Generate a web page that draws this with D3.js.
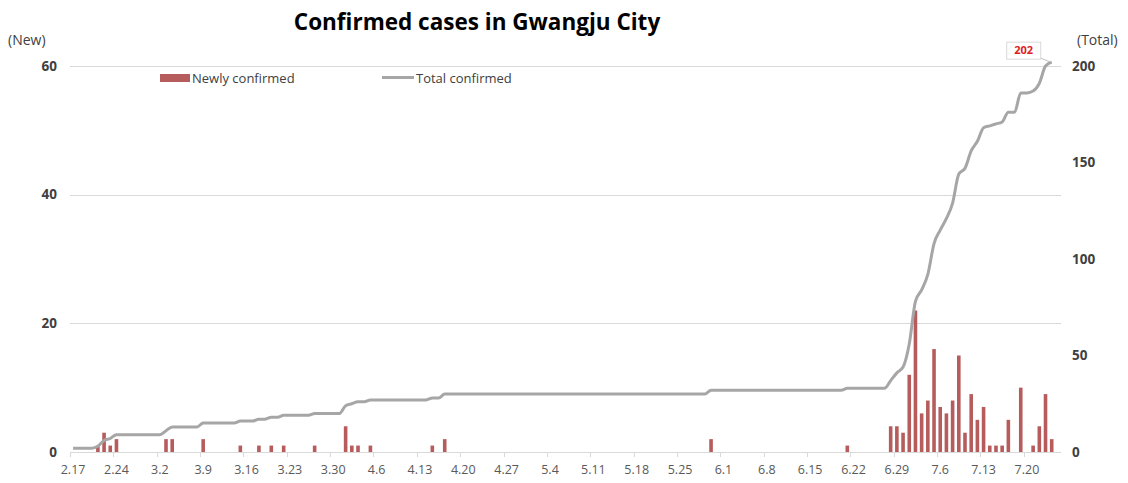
<!DOCTYPE html>
<html>
<head>
  <meta charset="utf-8">
  <title>Confirmed cases in Gwangju City</title>
  <script src="https://cdn.jsdelivr.net/npm/d3@7"></script>
  <style>
    body { margin: 0; background: #fff; font-family: "Open Sans", sans-serif; }
    .grid line { stroke: #d9d9d9; stroke-width: 1; }
    .tick-left, .tick-right { font-size: 13.5px; font-weight: bold; fill: #404040; }
    .xlabel { font-size: 12.5px; fill: #595959; }
    .unit { font-size: 14px; fill: #404040; }
    .legend text { font-size: 13px; fill: #404040; }
  </style>
</head>
<body>
<script>

  // daily categories, 2.17 .. 7.25 (last one has no data)
  var firstDay = new Date(2020, 1, 17),
      lastDay = new Date(2020, 6, 25);

  // newly confirmed per day, starting 2.17
  var newCases = [
    0, 0, 0, 0, 1, 3, 1, 2, 0, 0,
    0, 0, 0, 0, 0, 2, 2, 0, 0, 0,
    0, 2, 0, 0, 0, 0, 0, 1, 0, 0,
    1, 0, 1, 0, 1, 0, 0, 0, 0, 1,
    0, 0, 0, 0, 4, 1, 1, 0, 1, 0,
    0, 0, 0, 0, 0, 0, 0, 0, 1, 0,
    2, 0, 0, 0, 0, 0, 0, 0, 0, 0,
    0, 0, 0, 0, 0, 0, 0, 0, 0, 0,
    0, 0, 0, 0, 0, 0, 0, 0, 0, 0,
    0, 0, 0, 0, 0, 0, 0, 0, 0, 0,
    0, 0, 0, 2, 0, 0, 0, 0, 0, 0,
    0, 0, 0, 0, 0, 0, 0, 0, 0, 0,
    0, 0, 0, 0, 0, 1, 0, 0, 0, 0,
    0, 0, 4, 4, 3, 12, 22, 6, 8, 16,
    7, 6, 8, 15, 3, 9, 5, 7, 1, 1,
    1, 5, 0, 10, 0, 1, 4, 9, 2
  ];

  // total confirmed per day, starting 2.17
  var totalCases = [
    2, 2, 2, 2, 3, 6, 7, 9, 9, 9,
    9, 9, 9, 9, 9, 11, 13, 13, 13, 13,
    13, 15, 15, 15, 15, 15, 15, 16, 16, 16,
    17, 17, 18, 18, 19, 19, 19, 19, 19, 20,
    20, 20, 20, 20, 24, 25, 26, 26, 27, 27,
    27, 27, 27, 27, 27, 27, 27, 27, 28, 28,
    30, 30, 30, 30, 30, 30, 30, 30, 30, 30,
    30, 30, 30, 30, 30, 30, 30, 30, 30, 30,
    30, 30, 30, 30, 30, 30, 30, 30, 30, 30,
    30, 30, 30, 30, 30, 30, 30, 30, 30, 30,
    30, 30, 30, 32, 32, 32, 32, 32, 32, 32,
    32, 32, 32, 32, 32, 32, 32, 32, 32, 32,
    32, 32, 32, 32, 32, 33, 33, 33, 33, 33,
    33, 33, 37, 41, 44, 56, 78, 84, 92, 108,
    115, 121, 129, 144, 147, 156, 161, 168, 169, 170,
    171, 176, 176, 186, 186, 187, 191, 200, 202
  ];

  var xTickLabels = ["2.17", "2.24", "3.2", "3.9", "3.16", "3.23", "3.30", "4.6",
    "4.13", "4.20", "4.27", "5.4", "5.11", "5.18", "5.25", "6.1", "6.8",
    "6.15", "6.22", "6.29", "7.6", "7.13", "7.20"];
  var leftTicks = [0, 20, 40, 60];
  var rightTicks = [0, 50, 100, 150, 200];

  var W = 1128, H = 483;
  var plot = {left: 70, right: 1061, top: 66, bottom: 452};

  var fmt = d3.timeFormat("%-m.%-d");
  var categories = d3.timeDay.range(firstDay, d3.timeDay.offset(lastDay, 1)).map(fmt);

  var x = d3.scaleBand()
      .domain(categories)
      .range([plot.left, plot.right])
      .paddingInner(0.42)
      .paddingOuter(0.21);

  var yNew = d3.scaleLinear().domain([0, 60]).range([plot.bottom, plot.top]);
  var yTotal = d3.scaleLinear().domain([0, 200]).range([plot.bottom, plot.top]);

  var svg = d3.select("body").append("svg")
      .attr("width", W)
      .attr("height", H);

  // gridlines
  svg.append("g")
      .attr("class", "grid")
      .selectAll("line")
      .data(leftTicks)
      .join("line")
      .attr("x1", plot.left)
      .attr("x2", plot.right)
      .attr("y1", d => Math.round(yNew(d)) + 0.5)
      .attr("y2", d => Math.round(yNew(d)) + 0.5);

  // small ticks under the category axis
  svg.append("g")
      .attr("class", "grid")
      .selectAll("line")
      .data(xTickLabels)
      .join("line")
      .attr("x1", d => Math.round(x(d) - x.step() * 0.21) + 0.5)
      .attr("x2", d => Math.round(x(d) - x.step() * 0.21) + 0.5)
      .attr("y1", plot.bottom)
      .attr("y2", plot.bottom + 5);

  // bars
  var days = categories.slice(0, newCases.length);

  svg.append("g")
      .selectAll("rect")
      .data(newCases)
      .join("rect")
      .attr("x", (d, i) => x(days[i]))
      .attr("width", x.bandwidth())
      .attr("y", d => yNew(d))
      .attr("height", d => yNew(0) - yNew(d))
      .attr("fill", "#b65c5c");

  // total line
  var line = d3.line()
      .x((d, i) => x(days[i]) + x.bandwidth() / 2)
      .y(d => yTotal(d))
      .curve(d3.curveMonotoneX);

  svg.append("path")
      .datum(totalCases)
      .attr("d", line)
      .attr("fill", "none")
      .attr("stroke", "#a6a6a6")
      .attr("stroke-width", 3)
      .attr("stroke-linejoin", "round");

  // axis labels
  svg.append("g")
      .selectAll("text")
      .data(leftTicks)
      .join("text")
      .attr("class", "tick-left")
      .attr("x", 57)
      .attr("y", d => yNew(d))
      .attr("dy", "0.35em")
      .attr("text-anchor", "end")
      .text(d => d);

  svg.append("g")
      .selectAll("text")
      .data(rightTicks)
      .join("text")
      .attr("class", "tick-right")
      .attr("x", 1072)
      .attr("y", d => yTotal(d))
      .attr("dy", "0.35em")
      .text(d => d);

  svg.append("g")
      .selectAll("text")
      .data(xTickLabels)
      .join("text")
      .attr("class", "xlabel")
      .attr("x", d => x(d) + x.bandwidth() / 2)
      .attr("y", 474)
      .attr("text-anchor", "middle")
      .text(d => d);

  svg.append("text").attr("class", "unit")
      .attr("x", 8).attr("y", 45).text("(New)");
  svg.append("text").attr("class", "unit")
      .attr("x", 1077).attr("y", 45).text("(Total)");

  // title
  svg.append("text")
      .attr("x", 477)
      .attr("y", 30)
      .attr("text-anchor", "middle")
      .style("font-size", "22.5px")
      .style("font-weight", "bold")
      .style("fill", "#000")
      .text("Confirmed cases in Gwangju City");

  // legend
  var legend = svg.append("g").attr("class", "legend");
  legend.append("rect")
      .attr("x", 160).attr("y", 74)
      .attr("width", 30).attr("height", 8)
      .attr("fill", "#b65c5c");
  legend.append("text")
      .attr("x", 192).attr("y", 78).attr("dy", "0.35em")
      .text("Newly confirmed");
  legend.append("line")
      .attr("x1", 382).attr("x2", 414)
      .attr("y1", 77.5).attr("y2", 77.5)
      .attr("stroke", "#a6a6a6").attr("stroke-width", 3);
  legend.append("text")
      .attr("x", 416).attr("y", 78).attr("dy", "0.35em")
      .text("Total confirmed");

  // last value callout
  var lastI = totalCases.length - 1,
      lx = x(days[lastI]) + x.bandwidth() / 2,
      ly = yTotal(totalCases[lastI]);

  var callout = svg.append("g");
  callout.append("line")
      .attr("x1", lx - 11).attr("y1", ly - 4)
      .attr("x2", lx - 1).attr("y2", ly)
      .attr("stroke", "#bfbfbf");
  callout.append("rect")
      .attr("x", lx - 45).attr("y", ly - 20)
      .attr("width", 34).attr("height", 17)
      .attr("fill", "#fff")
      .attr("stroke", "#d9d9d9");
  callout.append("text")
      .attr("x", lx - 28).attr("y", ly - 11.5)
      .attr("dy", "0.35em")
      .attr("text-anchor", "middle")
      .style("font-size", "11px")
      .style("font-weight", "bold")
      .style("fill", "#e0201c")
      .text(totalCases[lastI]);

</script>
</body>
</html>
